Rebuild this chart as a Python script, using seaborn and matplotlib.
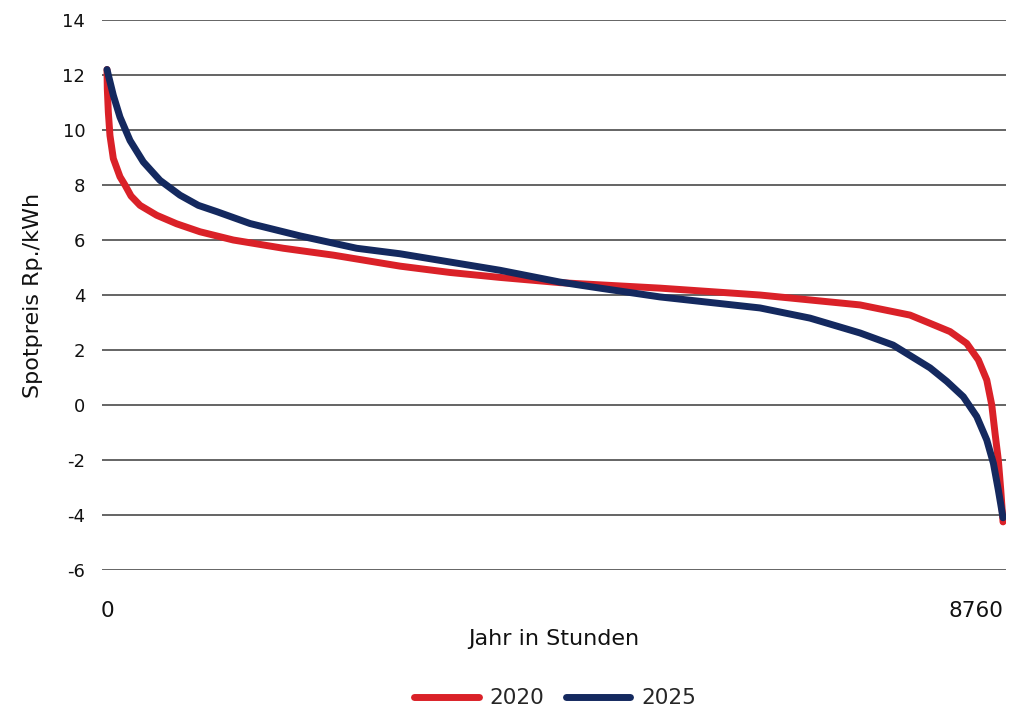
import pandas as pd
import matplotlib
matplotlib.use("Agg")
import matplotlib.pyplot as plt
import seaborn as sns

sns.set_theme(style="white")
plt.rcParams['font.family'] = ['DejaVu Sans']
plt.rcParams['axes.unicode_minus'] = False

# Jahresdauerlinie Spotpreis
stunden_2020 = [0, 3, 13, 29, 62, 127, 176, 235, 323, 486, 681, 909, 1235, 1724,
                2213, 2865, 3353, 3842, 4429, 5407, 6384, 7362, 7851, 8047, 8242,
                8405, 8519, 8601, 8650, 8682, 8714, 8738, 8760]
preis_2020 = [12.2, 11.5, 10.65, 9.8, 8.96, 8.3, 8.0, 7.6, 7.26, 6.9, 6.59, 6.3, 6.0, 5.7,
              5.45, 5.05, 4.82, 4.64, 4.45, 4.25, 4.0, 3.64, 3.27, 2.97, 2.67,
              2.24, 1.64, 0.91, 0.0, -1.03, -2.0, -3.09, -4.25]

stunden_2025 = [0, 13, 62, 127, 225, 355, 518, 714, 893, 1075, 1398, 1887, 2441, 2865,
                3353, 3842, 4429, 4820, 5407, 6384, 6873, 7362, 7685, 8047, 8210,
                8372, 8503, 8601, 8666, 8714, 8760]
preis_2025 = [12.2, 12.0, 11.26, 10.47, 9.62, 8.84, 8.17, 7.63, 7.26, 7.03, 6.6, 6.15, 5.7, 5.5,
              5.2, 4.9, 4.47, 4.25, 3.93, 3.53, 3.16, 2.62, 2.18, 1.35, 0.86,
              0.3, -0.42, -1.27, -2.12, -3.09, -4.1]

df = pd.concat([
    pd.DataFrame({'Stunden': stunden_2020, 'Preis': preis_2020, 'Jahr': '2020'}),
    pd.DataFrame({'Stunden': stunden_2025, 'Preis': preis_2025, 'Jahr': '2025'}),
])

farben = {'2020': '#DA2128', '2025': '#14295F'}

fig = plt.figure(figsize=(10.26, 7.12), dpi=100)
ax = fig.add_axes([0.0994, 0.1994, 0.8811, 0.7725])

sns.lineplot(data=df, x='Stunden', y='Preis', hue='Jahr', palette=farben,
             estimator=None, sort=False, linewidth=5, ax=ax,
             solid_capstyle='round', solid_joinstyle='round')

ax.set_xlim(-49, 8789)
ax.set_ylim(-6, 14)
ax.set_yticks(range(-6, 15, 2))
ax.yaxis.grid(True, color='#3a3a3a', linewidth=1.1)
ax.set_axisbelow(True)
for s in ax.spines.values():
    s.set_visible(False)
ax.tick_params(axis='y', length=0, pad=12, labelsize=13, labelcolor='#111111')

ax.set_xticks([0, 8760])
ax.set_xticklabels(['0', '8760'])
ax.tick_params(axis='x', length=0, pad=22, labelsize=15.5, labelcolor='#111111')
ax.get_xticklabels()[1].set_horizontalalignment('right')

ax.set_xlabel('Jahr in Stunden', fontsize=16, color='#111111', labelpad=6)
ax.set_ylabel('Spotpreis Rp./kWh', fontsize=16, color='#111111', labelpad=14)

handles, labels = ax.get_legend_handles_labels()
for h in handles:
    h.set_solid_capstyle('round')
ax.legend(handles, labels, loc='center', bbox_to_anchor=(0.501, -0.233), ncol=2,
          frameon=False, fontsize=15.5, handlelength=3.0, columnspacing=1.0,
          handletextpad=0.5)

plt.savefig('out.png', dpi=100)
